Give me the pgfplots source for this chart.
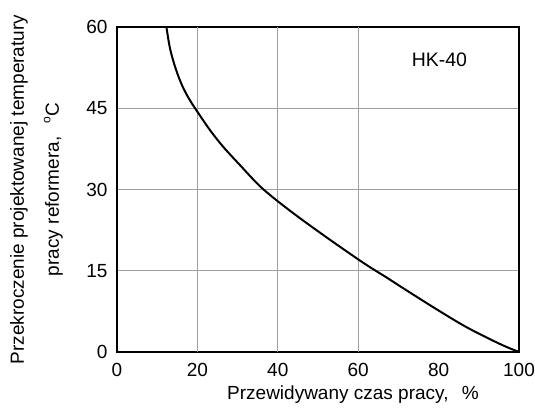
\documentclass[border=0pt]{standalone}
\usepackage{pgfplots}
\pgfplotsset{compat=1.18}
\usepackage{fontspec}
\setmainfont{Liberation Sans}

\begin{document}
\begin{tikzpicture}
\begin{axis}[
  name=main,
  scale only axis,
  width=402bp, height=325bp,
  xmin=0, xmax=100, ymin=0, ymax=60,
  xtick={0,20,40,60,80,100},
  ytick={0,15,30,45,60},
  major tick length=0pt,
  ymajorgrids,
  grid style={gray!75, line width=0.9pt},
  extra x ticks={20,40,60},
  extra x tick labels={},
  extra x tick style={grid=major},
  axis line style={black, line width=1.3pt},
  /pgf/number format/assume math mode=true,
  tick label style={font=\fontsize{19bp}{21bp}\selectfont},
  xticklabel style={yshift=-8bp},
  yticklabel style={xshift=-6bp},
  xlabel={Przewidywany czas pracy,\hspace{0.7em}\%},
  xlabel style={font=\fontsize{19bp}{22bp}\selectfont, xshift=35bp, yshift=-2bp},
  ylabel={\begin{tabular}{c}Przekroczenie projektowanej temperatury\\[13bp]pracy reformera,\hspace{0.7em}\raisebox{0.45em}{\fontsize{12bp}{12bp}\selectfont o}C\end{tabular}},
  ylabel style={font=\fontsize{19bp}{22bp}\selectfont, yshift=14bp},
  clip=true,
]
\addplot[black, line width=2pt, smooth, tension=0.55] coordinates {
  (12.3,60) (13.2,56.0) (14.6,52.3) (16.2,49.2) (17.8,46.9) (19.6,44.8)
  (23.1,41.0) (26.4,37.9) (30.6,34.5) (36,30.3) (43,26.1) (51.3,21.6)
  (60,17.1) (63.7,15.3) (67.4,13.6) (70.3,12.2) (78.6,8.3) (86.9,4.6)
  (95.2,1.5) (100,0)
};
\node[font=\fontsize{19.5bp}{22bp}\selectfont] at (axis cs:80.2,53.9) {HK-40};
\end{axis}
\pgfresetboundingbox
\path[use as bounding box] ([shift={(-117bp,-58bp)}]main.south west) rectangle ([shift={(16bp,27bp)}]main.north east);
\end{tikzpicture}
\end{document}
